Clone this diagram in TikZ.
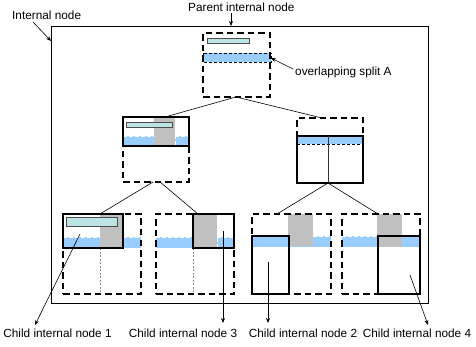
\documentclass[tikz,border=0pt]{standalone}
\usepackage{fontspec}
\setmainfont{Liberation Sans}
\usetikzlibrary{arrows.meta,calc}
\definecolor{bandblue}{RGB}{153,204,255}
\definecolor{tealfill}{RGB}{188,228,228}
\definecolor{grayfill}{RGB}{192,192,192}
\tikzset{
 dbox/.style={draw, line width=1.5pt, dash pattern=on 6.5pt off 4pt, rectangle, inner sep=0pt, outer sep=0pt, anchor=north west},
 sbox/.style={draw, line width=1.5pt},
 band/.style={fill=bandblue},
 grbox/.style={fill=grayfill},
 tlbar/.style={fill=tealfill, draw=black!70, line width=0.9pt},
 wdash/.style={draw=white, dash pattern=on 4pt off 2pt, line width=0.5pt},
 gdash/.style={draw=black!45, dash pattern=on 2pt off 1.5pt, line width=0.6pt},
 link/.style={line width=0.6pt},
 arr/.style={line width=0.6pt, -{Stealth[length=5pt,width=4pt]}},
 lbl/.style={font=\fontsize{11.8}{14}\selectfont, inner sep=0pt},
}
\begin{document}
\begin{tikzpicture}[x=1pt,y=-1pt]
\useasboundingbox (0,0) rectangle (476,347);
\fill[white] (0,0) rectangle (476,347);
% outer frame
\node[draw, line width=0.8pt, rectangle, inner sep=0pt, minimum width=377pt, minimum height=277pt, anchor=north west] (F) at (51,26) {};

% ---------- parent ----------
\fill[tlbar] (207,38) rectangle (249,43);
\draw[band, draw=black, dash pattern=on 3pt off 2pt, line width=0.7pt] (203,53) rectangle (271,62);
\node[dbox, minimum width=67pt, minimum height=64pt] (P) at (203,33) {};

% ---------- mid left ----------
\fill[band] (123,136) rectangle (189,146);
\fill[grbox] (154,118) rectangle (175,146);
\draw[wdash] (123,136) -- (154,136) (175,136) -- (189,136);
\draw[wdash] (175,117) -- (175,146);
\draw[tlbar] (126,122) rectangle (172,127);
\node[dbox, minimum width=66pt, minimum height=65pt] (L) at (123,117) {};
\draw[sbox] (123,117) rectangle (189,146);

% ---------- mid right ----------
\fill[band] (297,136) rectangle (363,144);
\draw[black, dash pattern=on 3pt off 2pt, line width=0.7pt] (297,144) -- (363,144);
\node[dbox, minimum width=66pt, minimum height=65pt] (R) at (297,118) {};
\draw[sbox] (297,136) rectangle (363,183);
\draw[black!80, line width=1pt] (328,136) -- (328,183);

% ---------- child 1 ----------
\fill[band] (63,237) rectangle (141,248);
\fill[grbox] (100,215) rectangle (123,248);
\draw[wdash] (63,237) -- (100,237) (123,237) -- (141,237);
\draw[gdash] (100,248) -- (100,294);
\draw[tlbar] (66,217) rectangle (117,226);
\node[dbox, minimum width=78pt, minimum height=80pt] (C1) at (63,214) {};
\draw[sbox] (63,214) rectangle (123,248);

% ---------- child 3 ----------
\fill[band] (156,237) rectangle (234,248);
\fill[grbox] (193,214) rectangle (217,248);
\draw[wdash] (156,237) -- (193,237) (217,237) -- (234,237);
\draw[wdash] (217,214) -- (217,248);
\draw[gdash] (193,248) -- (193,294);
\node[dbox, minimum width=78pt, minimum height=80pt] (C3) at (156,214) {};
\draw[sbox] (193,214) rectangle (234,248);

% ---------- child 2 ----------
\fill[band] (252,236) rectangle (331,247);
\fill[grbox] (288,214) rectangle (313,246);
\draw[wdash] (252,236) -- (288,236) (313,236) -- (331,236);
\draw[wdash] (252,247) -- (331,247);
\node[dbox, minimum width=79pt, minimum height=80pt] (C2) at (252,214) {};
\draw[sbox] (252,236) rectangle (289,294);

% ---------- child 4 ----------
\fill[band] (342,236) rectangle (420,247);
\fill[grbox] (377,214) rectangle (402,247);
\draw[wdash] (342,236) -- (377,236) (402,236) -- (420,236);
\draw[wdash] (342,247) -- (378,247);
\node[dbox, minimum width=78pt, minimum height=80pt] (C4) at (342,214) {};
\draw[sbox] (378,236) rectangle (420,294);

% ---------- tree links ----------
\coordinate (Pb) at (236,97);
\coordinate (Lt) at (165,117);
\coordinate (Rt) at (322,118);
\coordinate (Lb1) at (153,182);
\coordinate (Lb2) at (160,182);
\coordinate (Rb) at (328,183);
\coordinate (C1t) at (100,214);
\coordinate (C3t) at (198,214);
\coordinate (C2t) at (277,214);
\coordinate (C4t) at (378,214);
\draw[link] (Pb) -- (Lt);
\draw[link] (Pb) -- (Rt);
\draw[link] (Lb1) -- (C1t);
\draw[link] (Lb2) -- (C3t);
\draw[link] (Rb) -- (C2t);
\draw[link] (Rb) -- (C4t);

% ---------- labels ----------
\node[lbl, anchor=west] (tIN) at (12,15) {Internal node};
\node[lbl, anchor=west] (tPIN) at (188,7) {Parent internal node};
\node[lbl, anchor=west] (tOS) at (295,72) {overlapping split A};
\node[lbl] (tC1) at (57.5,333) {Child internal node 1};
\node[lbl] (tC3) at (183,333) {Child internal node 3};
\node[lbl] (tC2) at (303,333) {Child internal node 2};
\node[lbl] (tC4) at (417,333) {Child internal node 4};

\coordinate (aIN) at (33,22);
\coordinate (eIN) at (51,41);
\coordinate (aPIN) at (231,13);
\coordinate (ePIN) at (231,26);
\coordinate (aOS) at (293,69);
\coordinate (eOS) at (271,58);
\coordinate (s1) at (80,234);
\coordinate (e1) at (35,325);
\coordinate (s3) at (223,231);
\coordinate (e3) at (223,323);
\coordinate (s2) at (268,262);
\coordinate (e2) at (268,323);
\coordinate (s4) at (410,275);
\coordinate (e4) at (428,325);
\draw[arr] (aIN) -- (eIN);
\draw[arr] (aPIN) -- (ePIN);
\draw[arr] (aOS) -- (eOS);
\draw[arr] (s1) -- (e1);
\draw[arr] (s3) -- (e3);
\draw[arr] (s2) -- (e2);
\draw[arr] (s4) -- (e4);
\end{tikzpicture}
\end{document}
